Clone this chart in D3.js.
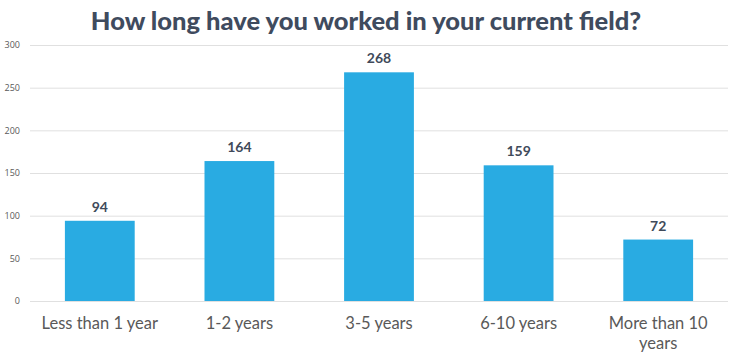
<!DOCTYPE html>
<html><head><meta charset="utf-8">
<script src="https://cdn.jsdelivr.net/npm/d3@7"></script>
<style>body{margin:0;background:#fff}svg{display:block}</style>
</head><body>
<svg id="c" width="738" height="363"></svg>
<script>
const categories = ["Less than 1 year", "1-2 years", "3-5 years", "6-10 years", "More than 10 years"];
const values = [94, 164, 268, 159, 72];
const yTicks = [0, 50, 100, 150, 200, 250, 300];
const title = "How long have you worked in your current field?";

const svg = d3.select("#c");
const mLeft = 30, mRight = 728, mTop = 45, mBottom = 301;
const x = d3.scaleBand().domain(categories).range([mLeft, mRight]).paddingInner(0.5).paddingOuter(0.25);
const y = d3.scaleLinear().domain([0, 300]).range([mBottom, mTop]);

svg.append("text").attr("x", 366).attr("y", 30).attr("text-anchor", "middle")
  .attr("font-family", "Lato").attr("font-weight", 900).attr("font-size", 25.5)
  .attr("fill", "#3f4b5e").text(title);

const yAxis = d3.axisLeft(y).tickValues(yTicks).tickSize(-(mRight - mLeft)).tickPadding(10);
const gy = svg.append("g").attr("transform", `translate(${mLeft},0)`).call(yAxis);
gy.select(".domain").remove();
gy.selectAll(".tick line").attr("stroke", "#e0e0e0");
gy.selectAll(".tick text").attr("font-family", "Open Sans, sans-serif").attr("font-size", 9).attr("fill", "#595959");

svg.selectAll("rect.bar").data(values).join("rect").attr("class", "bar")
  .attr("x", (d, i) => x(categories[i])).attr("width", x.bandwidth())
  .attr("y", d => y(d)).attr("height", d => y(0) - y(d)).attr("fill", "#29abe2");

svg.selectAll("text.val").data(values).join("text").attr("class", "val")
  .attr("x", (d, i) => x(categories[i]) + x.bandwidth() / 2).attr("y", d => y(d) - 9)
  .attr("text-anchor", "middle").attr("font-family", "Lato").attr("font-weight", 700)
  .attr("font-size", 14).attr("fill", "#404a5a").text(d => d);

const xAxis = d3.axisBottom(x).tickSize(0).tickPadding(16);
const gx = svg.append("g").attr("transform", `translate(0,${mBottom})`).call(xAxis);
gx.select(".domain").remove();
gx.selectAll(".tick text").attr("font-family", "Lato").attr("font-size", 16.5).attr("fill", "#595959")
  .each(function(d) {
    const t = d3.select(this);
    if (d === "More than 10 years") {
      t.text(null);
      t.append("tspan").attr("x", 0).attr("dy", "0.71em").text("More than 10");
      t.append("tspan").attr("x", 0).attr("dy", "1.25em").text("years");
      t.attr("dy", null);
    }
  });
</script>
</body></html>
